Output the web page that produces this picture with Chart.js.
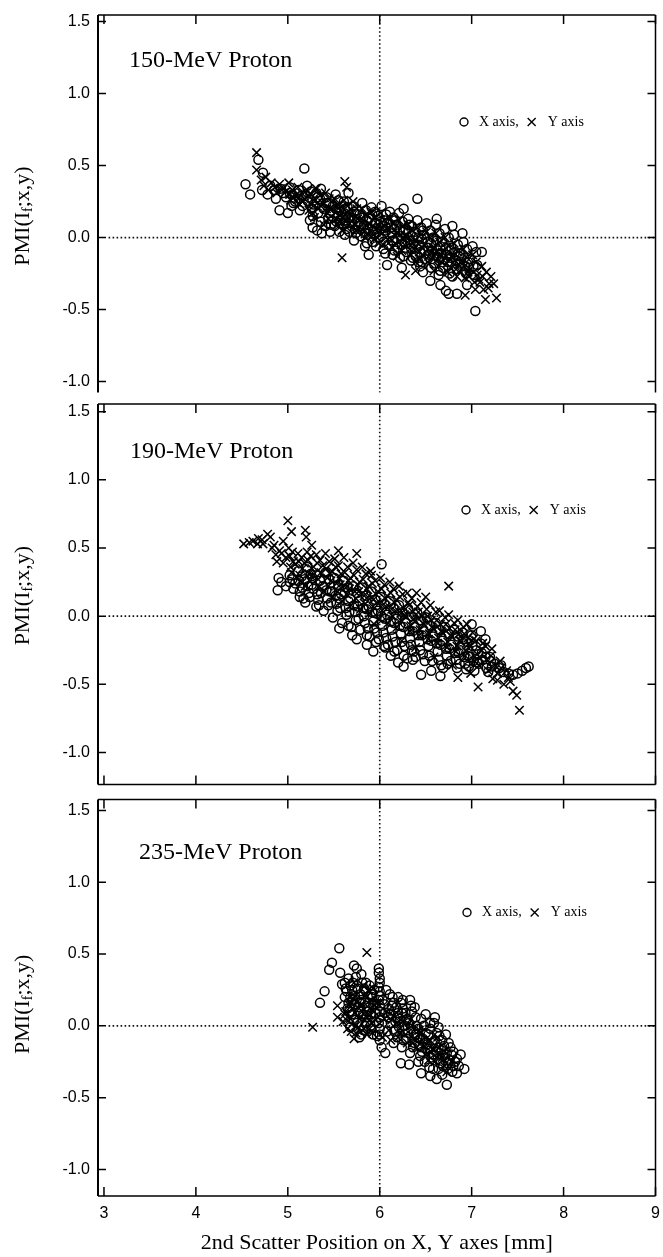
<!DOCTYPE html>
<html lang="en">
<head>
<meta charset="UTF-8">
<title>PMI vs 2nd scatter position</title>
<style>
    body{ margin:0; background:#fff; }
    .wrap{ position:relative; width:663px; height:1257px; }
    canvas{ position:absolute; left:0; }
</style>
<script src="https://cdn.jsdelivr.net/npm/chart.js@4.4.0/dist/chart.umd.min.js"></script>
</head>
<body>
<div class="wrap">
    <canvas id="c150" width="663" height="400" style="top:0px"></canvas>
    <canvas id="c190" width="663" height="396" style="top:396px"></canvas>
    <canvas id="c235" width="663" height="465" style="top:792px"></canvas>
</div>
<script>
// panel names, series names, ticks
const panelLabels = ["150-MeV Proton", "190-MeV Proton", "235-MeV Proton"];
const seriesNames = ["X axis,", "Y axis"];
const xTicks = [3, 4, 5, 6, 7, 8, 9];
const yTicks = [-1.0, -0.5, 0.0, 0.5, 1.0, 1.5];
const xTitle = "2nd Scatter Position on X, Y axes [mm]";

// 150 MeV : circles = X axis, crosses = Y axis
const p150X = [[4.54,0.37],[4.59,0.30],[4.72,0.33],[4.68,0.54],[4.73,0.45],[5.18,0.48],[4.91,0.19],[6.41,0.27],
 [5.88,-0.12],[6.08,-0.19],[6.55,-0.30],[6.75,-0.39],[6.84,-0.39],[7.11,-0.10],[6.79,0.08],[7.04,-0.51],
 [4.81,0.36],[4.78,0.30],[4.92,0.34],[4.87,0.27],[5.02,0.35],[4.98,0.28],[5.04,0.22],[5.12,0.33],[5.08,0.25],
 [5.13,0.19],[5.21,0.36],[5.19,0.29],[5.24,0.12],[5.27,0.07],[5.31,0.31],[5.28,0.23],[5.33,0.17],[5.32,0.05],
 [5.37,0.03],[5.42,0.28],[5.39,0.20],[5.44,0.13],[5.46,0.04],[5.52,0.30],[5.49,0.22],[5.54,0.15],[5.51,0.08],
 [5.61,0.25],[5.58,0.18],[5.63,0.10],[5.62,0.02],[5.71,0.22],[5.68,0.14],[5.73,0.06],[5.72,-0.02],[5.81,0.24],
 [5.78,0.16],[5.83,0.09],[5.79,0.01],[5.84,-0.06],[5.91,0.21],[5.88,0.13],[5.93,0.05],[5.92,-0.03],[6.02,0.22],
 [5.98,0.15],[6.03,0.08],[5.99,0.00],[6.04,-0.08],[6.11,0.18],[6.08,0.10],[6.13,0.03],[6.09,-0.05],[6.14,-0.12],
 [6.21,0.17],[6.18,0.09],[6.23,0.01],[6.19,-0.07],[6.31,0.13],[6.28,0.06],[6.33,-0.02],[6.29,-0.10],[6.34,-0.16],
 [6.41,0.12],[6.38,0.04],[6.43,-0.05],[6.39,-0.13],[6.44,-0.20],[6.51,0.10],[6.48,0.02],[6.53,-0.07],[6.49,-0.15],
 [6.61,0.09],[6.58,0.00],[6.63,-0.09],[6.59,-0.18],[6.64,-0.26],[6.71,0.06],[6.68,-0.03],[6.73,-0.12],[6.69,-0.21],
 [6.81,0.02],[6.78,-0.07],[6.83,-0.16],[6.79,-0.27],[6.72,-0.37],[6.91,-0.03],[6.88,-0.11],[6.93,-0.20],[7.01,-0.06],
 [6.98,-0.15],[7.03,-0.26],[6.95,-0.33],[6.66,-0.33],[6.47,-0.24],[6.24,-0.21],[5.66,0.31],[5.36,0.34],[6.26,0.20],
 [4.85,0.33],[4.95,0.31],[5.05,0.30],[5.06,0.24],[5.15,0.29],[5.16,0.22],[5.25,0.32],[5.26,0.20],[5.35,0.27],
 [5.36,0.11],[5.45,0.24],[5.46,0.17],[5.47,0.09],[5.55,0.26],[5.56,0.19],[5.57,0.12],[5.56,0.04],[5.65,0.21],
 [5.66,0.14],[5.64,0.06],[5.75,0.19],[5.76,0.11],[5.74,0.03],[5.85,0.19],[5.86,0.12],[5.84,0.03],[5.86,-0.04],
 [5.95,0.18],[5.96,0.10],[5.94,0.02],[5.96,-0.06],[6.05,0.12],[6.06,0.05],[6.04,-0.03],[6.06,-0.11],[6.15,0.14],
 [6.16,0.06],[6.14,-0.02],[6.16,-0.09],[6.25,0.11],[6.26,0.04],[6.24,-0.05],[6.26,-0.13],[6.35,0.08],[6.36,0.01],
 [6.34,-0.07],[6.36,-0.14],[6.45,0.07],[6.46,-0.01],[6.44,-0.10],[6.46,-0.17],[6.55,0.05],[6.56,-0.04],[6.54,-0.12],
 [6.56,-0.21],[6.65,0.03],[6.66,-0.06],[6.64,-0.14],[6.66,-0.23],[6.75,0.00],[6.76,-0.09],[6.74,-0.17],[6.76,-0.25],
 [6.85,-0.05],[6.86,-0.13],[6.84,-0.22],[6.95,-0.08],[6.96,-0.17],[6.94,-0.25],[7.05,-0.10],[7.06,-0.19],[6.62,0.13],
 [6.90,0.03],[5.00,0.17],
 [5.02,0.31],[5.12,0.27],[5.22,0.25],[5.27,0.15],[5.32,0.28],[5.42,0.24],[5.41,0.08],[5.52,0.20],[5.53,0.11],
 [5.62,0.20],[5.63,0.14],[5.67,0.04],[5.72,0.18],[5.77,0.08],[5.82,0.14],[5.87,0.06],[5.92,0.16],[5.97,0.06],
 [6.01,0.11],[6.07,0.16],[6.12,0.07],[6.17,0.12],[6.22,0.05],[6.27,-0.03],[6.32,0.09],[6.37,-0.04],[6.42,0.00],
 [6.47,0.05],[6.52,-0.03],[6.57,-0.09],[6.62,-0.02],[6.67,-0.11],[6.72,-0.07],[6.77,-0.14],[6.82,-0.10],[6.87,-0.18],
 [6.92,-0.14],[6.97,-0.21],[7.02,-0.20],[6.62,-0.13],[6.42,-0.17],[6.22,-0.14]];
const p150Y = [[4.66,0.59],[4.66,0.47],[5.62,0.39],[5.64,0.35],[5.59,-0.14],[6.28,-0.26],[6.39,-0.23],[6.93,-0.40],
 [7.15,-0.43],[7.27,-0.42],[7.24,-0.32],[4.71,0.40],[4.74,0.36],[4.82,0.38],[4.79,0.33],[4.91,0.37],[4.88,0.31],
 [5.01,0.38],[4.98,0.32],[5.03,0.26],[5.11,0.35],[5.08,0.29],[5.13,0.23],[5.21,0.33],[5.18,0.27],[5.23,0.19],
 [5.31,0.34],[5.28,0.26],[5.33,0.20],[5.29,0.14],[5.41,0.31],[5.38,0.24],[5.43,0.17],[5.39,0.09],[5.51,0.27],
 [5.48,0.20],[5.53,0.13],[5.61,0.26],[5.58,0.19],[5.63,0.11],[5.59,0.05],[5.71,0.25],[5.68,0.17],[5.73,0.09],
 [5.81,0.20],[5.78,0.12],[5.83,0.04],[5.91,0.18],[5.88,0.10],[5.93,0.02],[6.01,0.17],[5.98,0.09],[6.03,0.03],
 [5.99,-0.04],[6.11,0.14],[6.08,0.06],[6.13,-0.02],[6.21,0.12],[6.18,0.03],[6.23,-0.05],[6.19,-0.13],[6.31,0.09],
 [6.28,0.01],[6.33,-0.08],[6.41,0.07],[6.38,-0.02],[6.43,-0.10],[6.39,-0.17],[6.51,0.04],[6.48,-0.05],[6.53,-0.13],
 [6.61,0.03],[6.58,-0.07],[6.63,-0.15],[6.59,-0.23],[6.71,0.00],[6.68,-0.10],[6.73,-0.18],[6.81,-0.04],[6.78,-0.13],
 [6.83,-0.22],[6.91,-0.08],[6.88,-0.17],[6.93,-0.28],[7.01,-0.12],[6.98,-0.22],[7.03,-0.31],[7.11,-0.20],[7.08,-0.29],
 [7.13,-0.36],[7.21,-0.27],[7.18,-0.35],
 [4.76,0.42],[4.86,0.35],[4.95,0.34],[5.05,0.33],[5.06,0.28],[5.15,0.31],[5.16,0.25],[5.25,0.30],[5.26,0.23],
 [5.35,0.29],[5.36,0.22],[5.45,0.27],[5.46,0.20],[5.44,0.13],[5.55,0.23],[5.56,0.16],[5.54,0.09],[5.65,0.22],
 [5.66,0.14],[5.64,0.07],[5.75,0.20],[5.76,0.13],[5.74,0.05],[5.85,0.16],[5.86,0.08],[5.84,0.00],[5.95,0.14],
 [5.96,0.06],[5.94,-0.01],[6.05,0.12],[6.06,0.05],[6.04,-0.05],[6.15,0.10],[6.16,0.02],[6.14,-0.07],[6.25,0.08],
 [6.26,-0.01],[6.24,-0.09],[6.35,0.05],[6.36,-0.04],[6.34,-0.12],[6.45,0.02],[6.46,-0.07],[6.44,-0.15],[6.55,0.00],
 [6.56,-0.10],[6.54,-0.18],[6.65,-0.03],[6.66,-0.12],[6.64,-0.20],[6.75,-0.06],[6.76,-0.15],[6.74,-0.24],[6.85,-0.10],
 [6.86,-0.19],[6.84,-0.27],[6.95,-0.14],[6.96,-0.24],[7.05,-0.17],[7.06,-0.26],[7.16,-0.24],[7.19,-0.32],[7.04,-0.36],
 [4.92,0.34],[5.02,0.30],[5.12,0.28],[5.22,0.29],[5.27,0.17],[5.32,0.24],[5.42,0.20],[5.52,0.22],[5.57,0.12],
 [5.62,0.16],[5.67,0.10],[5.72,0.13],[5.77,0.06],[5.82,0.12],[5.87,0.03],[5.92,0.08],[5.97,0.00],[6.02,0.06],
 [6.07,0.00],[6.12,0.08],[6.17,-0.04],[6.22,0.02],[6.27,-0.05],[6.32,0.00],[6.37,-0.08],[6.42,-0.04],[6.47,-0.12],
 [6.52,-0.08],[6.57,-0.14],[6.62,-0.10],[6.67,-0.17],[6.72,-0.13],[6.77,-0.21],[6.82,-0.16],[6.87,-0.23],[6.92,-0.20],
 [6.97,-0.27],[7.02,-0.24],[7.09,-0.31],[7.12,-0.27]];

// 190 MeV
const p190X = [[4.90,0.28],[4.89,0.19],[4.93,0.25],[6.02,0.38],[6.45,-0.43],[7.59,-0.38],[7.55,-0.40],[6.66,-0.44],
 [5.93,-0.26],[5.70,-0.14],[5.75,-0.17],[5.31,0.07],[5.13,0.14],[6.20,-0.34],[6.30,-0.31],[7.20,-0.30],[7.10,-0.20],
 [7.00,-0.14],[6.90,-0.12],[7.30,-0.38],[7.40,-0.42],[6.05,-0.22],[6.35,-0.25],[7.00,-0.06],[7.10,-0.11],[7.15,-0.17],
 [5.02,0.30],[4.98,0.22],[5.11,0.33],[5.08,0.24],[5.13,0.18],[5.21,0.36],[5.18,0.27],[5.23,0.17],[5.19,0.10],
 [5.31,0.30],[5.28,0.20],[5.33,0.12],[5.41,0.32],[5.38,0.22],[5.43,0.13],[5.39,0.04],[5.51,0.28],[5.48,0.18],
 [5.53,0.09],[5.49,-0.01],[5.61,0.26],[5.58,0.16],[5.63,0.06],[5.59,-0.05],[5.71,0.22],[5.68,0.13],[5.73,0.03],
 [5.69,-0.08],[5.81,0.21],[5.78,0.11],[5.83,0.00],[5.79,-0.10],[5.91,0.18],[5.88,0.07],[5.93,-0.04],[5.89,-0.15],
 [6.01,0.14],[5.98,0.04],[6.03,-0.07],[5.99,-0.17],[6.11,0.11],[6.08,0.01],[6.13,-0.10],[6.09,-0.21],[6.21,0.08],
 [6.18,-0.02],[6.23,-0.13],[6.19,-0.25],[6.31,0.05],[6.28,-0.05],[6.33,-0.16],[6.41,0.02],[6.38,-0.08],[6.43,-0.19],
 [6.39,-0.30],[6.51,-0.01],[6.48,-0.11],[6.53,-0.22],[6.49,-0.33],[6.61,-0.05],[6.58,-0.15],[6.63,-0.26],[6.71,-0.08],
 [6.68,-0.18],[6.73,-0.29],[6.69,-0.38],[6.81,-0.10],[6.78,-0.21],[6.83,-0.32],[6.91,-0.17],[6.88,-0.25],[6.93,-0.35],
 [7.01,-0.22],[6.98,-0.30],[7.03,-0.40],[7.11,-0.27],[7.08,-0.35],[7.21,-0.33],[7.18,-0.41],[5.86,-0.21],[6.12,-0.29],
 [6.56,-0.40],[6.26,-0.37],[5.56,-0.09],
 [5.05,0.27],[5.06,0.20],[5.15,0.29],[5.16,0.21],[5.17,0.13],[5.25,0.31],[5.26,0.23],[5.24,0.14],[5.35,0.26],
 [5.36,0.17],[5.34,0.08],[5.45,0.27],[5.46,0.18],[5.44,0.08],[5.55,0.23],[5.56,0.13],[5.54,0.04],[5.65,0.21],
 [5.66,0.11],[5.64,0.01],[5.66,-0.07],[5.75,0.17],[5.76,0.07],[5.74,-0.03],[5.85,0.15],[5.86,0.05],[5.84,-0.05],
 [5.86,-0.14],[5.95,0.12],[5.96,0.02],[5.94,-0.09],[5.96,-0.19],[6.05,0.09],[6.06,-0.02],[6.04,-0.12],[6.06,-0.23],
 [6.15,0.06],[6.16,-0.05],[6.14,-0.15],[6.16,-0.26],[6.25,0.03],[6.26,-0.08],[6.24,-0.19],[6.26,-0.29],[6.35,0.00],
 [6.36,-0.11],[6.34,-0.21],[6.36,-0.32],[6.45,-0.03],[6.46,-0.14],[6.44,-0.25],[6.55,-0.07],[6.56,-0.18],[6.54,-0.29],
 [6.65,-0.10],[6.66,-0.21],[6.64,-0.32],[6.75,-0.13],[6.76,-0.24],[6.74,-0.35],[6.85,-0.15],[6.86,-0.27],[6.84,-0.38],
 [6.95,-0.19],[6.96,-0.29],[6.94,-0.39],[7.05,-0.25],[7.06,-0.34],[7.15,-0.30],[7.16,-0.38],[7.25,-0.35],[7.35,-0.41],
 [7.45,-0.43],[7.62,-0.37],
 [5.02,0.25],[5.12,0.26],[5.22,0.22],[5.27,0.28],[5.32,0.16],[5.42,0.19],[5.47,0.10],[5.52,0.15],[5.57,0.06],
 [5.62,0.17],[5.67,0.03],[5.72,0.08],[5.77,-0.02],[5.82,0.06],[5.87,-0.09],[5.92,0.03],[5.97,-0.12],[6.02,0.00],
 [6.07,-0.16],[6.12,-0.04],[6.17,-0.19],[6.22,-0.07],[6.27,-0.22],[6.32,-0.11],[6.37,-0.26],[6.42,-0.14],[6.47,-0.28],
 [6.52,-0.17],[6.57,-0.33],[6.62,-0.20],[6.67,-0.36],[6.72,-0.24],[6.77,-0.33],[6.82,-0.27],[6.87,-0.35],[6.92,-0.30],
 [6.97,-0.37],[7.02,-0.33],[7.07,-0.28],[7.12,-0.32],[7.22,-0.37],[7.32,-0.36],[7.50,-0.42]];
const p190Y = [[4.52,0.53],[4.62,0.55],[4.68,0.57],[4.72,0.56],[4.78,0.60],[4.81,0.58],[5.00,0.70],[5.19,0.63],
 [5.20,0.58],[6.75,0.22],[7.52,-0.69],[7.49,-0.58],[7.45,-0.55],[7.07,-0.52],[6.85,-0.45],[7.28,-0.47],[7.35,-0.50],
 [4.85,0.52],[4.95,0.55],[6.30,0.17],[6.50,0.14],[6.40,0.17],[5.90,0.33],[4.91,0.48],[4.88,0.40],[5.01,0.50],
 [4.98,0.43],[5.03,0.36],[5.11,0.46],[5.08,0.38],[5.13,0.30],[5.21,0.47],[5.18,0.39],[5.23,0.31],[5.19,0.22],
 [5.31,0.45],[5.28,0.36],[5.33,0.27],[5.41,0.46],[5.38,0.37],[5.43,0.28],[5.39,0.18],[5.51,0.42],[5.48,0.33],
 [5.53,0.24],[5.49,0.14],[5.61,0.43],[5.58,0.31],[5.63,0.21],[5.59,0.11],[5.71,0.39],[5.68,0.28],[5.73,0.18],
 [5.69,0.08],[5.81,0.36],[5.78,0.25],[5.83,0.15],[5.79,0.05],[5.91,0.30],[5.88,0.22],[5.93,0.12],[5.89,0.02],
 [5.94,-0.06],[6.01,0.28],[5.98,0.18],[6.03,0.08],[5.99,-0.02],[6.11,0.25],[6.08,0.15],[6.13,0.05],[6.09,-0.05],
 [6.21,0.22],[6.18,0.12],[6.23,0.02],[6.19,-0.08],[6.24,-0.18],[6.31,0.10],[6.28,0.00],[6.33,-0.11],[6.41,0.07],
 [6.38,-0.04],[6.43,-0.14],[6.39,-0.23],[6.51,0.05],[6.48,-0.06],[6.53,-0.17],[6.61,0.03],[6.58,-0.09],[6.63,-0.20],
 [6.59,-0.30],[6.71,-0.01],[6.68,-0.12],[6.73,-0.23],[6.81,-0.05],[6.78,-0.15],[6.83,-0.26],[6.79,-0.36],[6.91,-0.08],
 [6.88,-0.18],[6.93,-0.29],[7.01,-0.12],[6.98,-0.22],[7.03,-0.33],[6.99,-0.42],[7.11,-0.25],[7.08,-0.36],[7.21,-0.29],
 [7.18,-0.40],[7.23,-0.46],[7.31,-0.33],[7.28,-0.42],[5.04,0.62],[5.26,0.52],[5.55,0.48],[5.75,0.46],
 [4.58,0.54],[4.73,0.53],[4.83,0.50],[4.93,0.46],[4.95,0.39],[5.05,0.47],[5.06,0.40],[5.04,0.32],[5.15,0.43],
 [5.16,0.35],[5.14,0.26],[5.25,0.44],[5.26,0.35],[5.24,0.26],[5.35,0.41],[5.36,0.32],[5.34,0.22],[5.45,0.40],
 [5.46,0.31],[5.44,0.22],[5.55,0.37],[5.56,0.28],[5.54,0.18],[5.65,0.36],[5.66,0.26],[5.64,0.16],[5.75,0.34],
 [5.76,0.23],[5.74,0.13],[5.85,0.31],[5.86,0.20],[5.84,0.09],[5.95,0.26],[5.96,0.16],[5.94,0.06],[6.05,0.23],
 [6.06,0.13],[6.04,0.03],[6.15,0.20],[6.16,0.10],[6.14,0.00],[6.25,0.16],[6.26,0.06],[6.24,-0.04],[6.35,0.13],
 [6.36,0.03],[6.34,-0.07],[6.45,0.10],[6.46,0.00],[6.44,-0.10],[6.55,0.08],[6.56,-0.03],[6.54,-0.13],[6.65,0.04],
 [6.66,-0.06],[6.64,-0.16],[6.75,0.01],[6.76,-0.09],[6.74,-0.19],[6.85,-0.03],[6.86,-0.13],[6.84,-0.22],[6.95,-0.06],
 [6.96,-0.16],[6.94,-0.26],[7.05,-0.18],[7.06,-0.28],[7.15,-0.22],[7.16,-0.32],[7.25,-0.36],[7.38,-0.40],[7.42,-0.48],
 [4.67,0.53],[4.87,0.45],[5.02,0.44],[5.12,0.40],[5.22,0.41],[5.27,0.30],[5.32,0.39],[5.42,0.35],[5.47,0.26],
 [5.52,0.36],[5.57,0.23],[5.62,0.32],[5.67,0.20],[5.72,0.30],[5.77,0.18],[5.82,0.27],[5.87,0.14],[5.92,0.24],
 [5.97,0.10],[6.02,0.20],[6.07,0.07],[6.12,0.17],[6.17,0.04],[6.22,0.14],[6.27,0.01],[6.32,0.08],[6.37,-0.02],
 [6.42,0.03],[6.47,-0.05],[6.52,0.00],[6.57,-0.08],[6.62,-0.03],[6.67,-0.11],[6.72,-0.06],[6.77,-0.14],[6.82,-0.10],
 [6.87,-0.18],[6.92,-0.13],[6.97,-0.20],[7.02,-0.17],[7.12,-0.20],[7.22,-0.24],[7.32,-0.38],[7.40,-0.45]];

// 235 MeV
const p235X = [[5.56,0.54],[5.48,0.44],[5.45,0.39],[5.57,0.37],[5.59,0.29],[5.40,0.24],[5.35,0.16],[5.72,0.42],
 [5.75,0.40],[6.33,0.18],[6.60,0.06],[6.64,-0.01],[6.84,-0.23],[6.92,-0.30],[6.73,-0.41],[6.84,-0.33],[6.23,-0.26],
 [6.32,-0.27],[6.45,-0.33],[6.06,-0.19],[6.02,-0.15],[6.09,0.06],[6.11,0.22],[6.20,0.20],[6.25,0.18],[6.50,0.08],
 [6.55,0.02],[6.78,-0.20],[6.80,-0.28],[6.55,-0.35],[6.62,-0.37],[6.68,-0.34],[5.62,0.30],[5.66,0.33],[5.80,0.36],
 [5.85,0.30],[5.70,0.25],[5.99,0.40],[5.99,0.37],[6.00,0.33],[6.00,0.30],[5.99,0.27],[6.00,0.24],[6.00,0.21],
 [5.99,0.18],[6.00,0.14],[6.00,0.10],[6.00,0.06],[5.99,0.02],[6.00,-0.02],[6.00,-0.06],[6.00,-0.10],[5.65,0.12],
 [5.70,0.08],[5.72,0.15],[5.75,0.02],[5.78,0.10],[5.80,0.18],[5.82,-0.03],[5.85,0.06],[5.88,0.13],[5.90,0.00],
 [5.92,0.20],[5.93,-0.06],[5.95,0.09],[5.68,0.20],[5.85,0.24],[6.10,0.12],[6.12,0.02],[6.15,0.16],[6.16,-0.04],
 [6.20,0.09],[6.21,-0.01],[6.25,0.12],[6.26,-0.10],[6.30,0.05],[6.31,-0.05],[6.35,0.10],[6.36,-0.15],[6.40,0.00],
 [6.41,-0.08],[6.45,0.05],[6.46,-0.18],[6.50,-0.05],[6.51,-0.13],[6.55,-0.02],[6.56,-0.22],[6.60,-0.10],[6.61,-0.18],
 [6.65,-0.07],[6.66,-0.26],[6.70,-0.14],[6.71,-0.22],[6.75,-0.12],[6.74,-0.30],[6.80,-0.18],[6.42,-0.25],[6.58,-0.30],
 [6.15,-0.12],[5.78,-0.08],[6.38,0.13],
 [5.62,0.20],[5.64,0.24],[5.66,0.16],[5.68,0.28],[5.70,0.18],[5.72,0.04],[5.74,0.34],[5.76,0.26],[5.77,0.13],
 [5.79,0.22],[5.81,0.30],[5.82,0.08],[5.84,0.16],[5.86,0.02],[5.87,0.20],[5.89,0.28],[5.90,0.08],[5.91,-0.02],
 [5.93,0.15],[5.94,0.25],[5.96,0.03],[5.97,-0.07],[5.80,-0.06],[5.68,-0.01],[6.05,0.15],[6.07,0.25],[6.08,-0.04],
 [6.12,0.08],[6.14,0.20],[6.17,0.03],[6.18,0.13],[6.19,-0.08],[6.22,0.05],[6.23,0.16],[6.24,-0.15],[6.27,0.00],
 [6.28,0.09],[6.29,-0.09],[6.32,0.02],[6.33,-0.19],[6.34,0.14],[6.37,-0.05],[6.38,-0.12],[6.39,0.06],[6.42,-0.02],
 [6.43,-0.14],[6.44,-0.21],[6.47,-0.09],[6.48,0.00],[6.49,-0.25],[6.52,-0.16],[6.53,-0.06],[6.54,-0.29],[6.57,-0.12],
 [6.58,-0.20],[6.59,0.02],[6.62,-0.05],[6.63,-0.23],[6.64,-0.30],[6.67,-0.17],[6.68,-0.10],[6.69,-0.28],[6.72,-0.06],
 [6.73,-0.19],[6.76,-0.24],[6.77,-0.15],[6.82,-0.25],[6.86,-0.28],[6.88,-0.20],
 [5.63,0.26],[5.67,0.10],[5.71,0.30],[5.73,0.21],[5.78,0.16],[5.83,0.26],[5.86,0.10],[5.91,0.22],[5.95,0.15],
 [6.03,0.18],[6.06,0.09],[6.13,0.14],[6.19,0.06],[6.24,0.09],[6.29,0.04],[6.34,-0.02],[6.39,-0.06],[6.44,-0.09],
 [6.49,-0.12],[6.54,-0.16],[6.59,-0.20],[6.64,-0.15],[6.69,-0.21],[6.74,-0.26],[6.79,-0.32]];
const p235Y = [[5.86,0.51],[5.54,0.14],[5.54,0.06],[5.27,-0.01],[5.60,0.03],[5.65,-0.02],[5.74,-0.05],[5.72,-0.09],
 [5.68,0.05],[5.70,0.12],[5.78,0.05],[5.80,0.15],[5.83,-0.02],[5.87,0.08],[5.90,0.18],[5.92,-0.05],[5.95,0.04],
 [5.75,0.22],[5.82,0.28],[5.72,0.30],[5.88,0.25],[6.05,0.05],[6.10,-0.03],[6.15,0.07],[6.20,-0.08],[6.25,0.03],
 [6.30,-0.12],[6.35,0.00],[6.40,-0.15],[6.45,-0.05],[6.50,-0.20],[6.55,-0.10],[6.60,-0.25],[6.65,-0.15],[6.70,-0.28],
 [5.63,0.10],[5.77,-0.01],[5.96,0.13],[6.03,-0.08],
 [5.62,0.08],[5.66,0.15],[5.69,-0.04],[5.71,0.19],[5.73,0.09],[5.76,0.17],[5.79,-0.04],[5.81,0.10],[5.84,0.21],
 [5.86,-0.06],[5.89,0.12],[5.91,0.02],[5.93,0.26],[5.97,0.16],[6.08,0.10],[6.12,-0.10],[6.18,0.02],[6.22,-0.02],
 [6.28,-0.06],[6.33,0.04],[6.38,-0.09],[6.43,-0.03],[6.48,-0.14],[6.53,-0.24],[6.58,-0.17],[6.63,-0.08],[6.68,-0.22],
 [6.73,-0.32],[6.78,-0.25],
 [5.64,0.04],[5.69,0.16],[5.74,0.00],[5.79,0.14],[5.84,0.04],[5.89,-0.02],[5.94,0.10],[6.13,0.04],[6.23,-0.05],
 [6.36,-0.12],[6.46,-0.10],[6.56,-0.18],[6.66,-0.20]];

// reference lines (dotted)
const zeroLine = [[3.05, 0], [9.0, 0]];
const sixLine = [[6, -1.3], [6, 1.6]];

const panels = [
    {id: "c150", circles: p150X, crosses: p150Y, label: panelLabels[0], yMin: -1.076, yMax: 1.546,
     pad: {top: 15, bottom: 5}, labelPos: [31, 46], legendPos: [366, 107], bottomLine: false, xAxis: false},
    {id: "c190", circles: p190X, crosses: p190Y, label: panelLabels[1], yMin: -1.235, yMax: 1.556,
     pad: {top: 8, bottom: 4}, labelPos: [32, 48], legendPos: [368, 106], bottomLine: true, xAxis: false},
    {id: "c235", circles: p235X, crosses: p235Y, label: panelLabels[2], yMin: -1.185, yMax: 1.576,
     pad: {top: 6, bottom: 0}, labelPos: [41, 53], legendPos: [369, 113], bottomLine: true, xAxis: true}
];

const toPts = arr => arr.map(p => ({x: p[0], y: p[1]}));
const serif = "'Liberation Serif', 'Times New Roman', serif";
const sans = "'Liberation Sans', Arial, sans-serif";

// frame, inward ticks, panel label, legend and y title
const framePlugin = {
    id: "frame",
    afterDraw(chart, args, opts) {
        const ctx = chart.ctx;
        const a = chart.chartArea;
        const xs = chart.scales.x, ys = chart.scales.y;
        ctx.save();
        ctx.strokeStyle = "#000";
        ctx.fillStyle = "#000";
        ctx.lineCap = "butt";

        ctx.lineWidth = 2;
        ctx.beginPath();
        ctx.moveTo(a.left, a.top); ctx.lineTo(a.left, a.bottom);
        ctx.stroke();

        ctx.lineWidth = 1.5;
        ctx.beginPath();
        ctx.moveTo(a.left, a.top); ctx.lineTo(a.right, a.top);
        ctx.moveTo(a.right, a.top); ctx.lineTo(a.right, a.bottom);
        if (opts.bottomLine) { ctx.moveTo(a.left, a.bottom); ctx.lineTo(a.right, a.bottom); }
        ctx.stroke();

        ctx.beginPath();
        xTicks.forEach(v => {
            const px = xs.getPixelForValue(v);
            ctx.moveTo(px, a.top); ctx.lineTo(px, a.top + 9);
            if (opts.bottomLine) { ctx.moveTo(px, a.bottom); ctx.lineTo(px, a.bottom - 9); }
        });
        yTicks.forEach(v => {
            const py = ys.getPixelForValue(v);
            ctx.moveTo(a.left, py); ctx.lineTo(a.left + 8, py);
            ctx.moveTo(a.right, py); ctx.lineTo(a.right - 8, py);
        });
        ctx.stroke();

        // panel label
        ctx.font = "24px " + serif;
        ctx.textBaseline = "middle";
        ctx.textAlign = "left";
        ctx.fillText(opts.label, a.left + opts.labelPos[0], a.top + opts.labelPos[1]);

        // legend
        const lx = a.left + opts.legendPos[0], ly = a.top + opts.legendPos[1];
        ctx.lineWidth = 1.4;
        ctx.beginPath();
        ctx.arc(lx, ly, 4, 0, Math.PI * 2);
        ctx.stroke();
        ctx.font = "14px " + serif;
        let tx = lx + 15;
        ctx.fillText(seriesNames[0], tx, ly);
        tx += ctx.measureText(seriesNames[0]).width + 13;
        ctx.beginPath();
        ctx.moveTo(tx - 4, ly - 4); ctx.lineTo(tx + 4, ly + 4);
        ctx.moveTo(tx - 4, ly + 4); ctx.lineTo(tx + 4, ly - 4);
        ctx.stroke();
        ctx.fillText(seriesNames[1], tx + 16, ly);

        // y title with subscript f
        const cy = ys.getPixelForValue(0.15);
        ctx.translate(23, cy);
        ctx.rotate(-Math.PI / 2);
        const big = "22px " + serif, small = "14px " + serif;
        ctx.font = big;
        const w1 = ctx.measureText("PMI(I").width, w3 = ctx.measureText(";x,y)").width;
        ctx.font = small;
        const w2 = ctx.measureText("f").width;
        const sx = -(w1 + w2 + w3) / 2;
        ctx.font = big;
        ctx.fillText("PMI(I", sx, 0);
        ctx.font = small;
        ctx.fillText("f", sx + w1, 5);
        ctx.font = big;
        ctx.fillText(";x,y)", sx + w1 + w2, 0);
        ctx.restore();
    }
};

panels.forEach(p => {
    const ctx = document.getElementById(p.id).getContext("2d");
    new Chart(ctx, {
        type: "scatter",
        data: {
            datasets: [
                {data: toPts(p.circles), pointStyle: "circle", pointRadius: 4.5, borderWidth: 1.5,
                 borderColor: "#000", backgroundColor: "rgba(0,0,0,0)"},
                {data: toPts(p.crosses), pointStyle: "crossRot", pointRadius: 6, borderWidth: 1.5,
                 borderColor: "#000", backgroundColor: "#000"},
                {data: toPts(zeroLine), showLine: true, pointRadius: 0, borderColor: "#111",
                 borderWidth: 1.6, borderDash: [1.6, 2.4]},
                {data: toPts(sixLine), showLine: true, pointRadius: 0, borderColor: "#111",
                 borderWidth: 1.6, borderDash: [1.6, 2.4]}
            ]
        },
        options: {
            responsive: false,
            animation: false,
            events: [],
            layout: {padding: {left: 0, right: 5, top: p.pad.top, bottom: p.pad.bottom}},
            plugins: {
                legend: {display: false},
                tooltip: {enabled: false},
                frame: {label: p.label, labelPos: p.labelPos, legendPos: p.legendPos, bottomLine: p.bottomLine}
            },
            scales: {
                x: {
                    type: "linear",
                    display: p.xAxis,
                    min: 2.935,
                    max: 9.0,
                    afterBuildTicks: s => { s.ticks = xTicks.map(v => ({value: v})); },
                    afterFit: s => {
                        if (p.xAxis) s.height = 61;
                        s.paddingLeft = 0; s.paddingRight = 0;
                    },
                    grid: {display: false, drawTicks: false},
                    border: {display: false},
                    ticks: {color: "#000", padding: 8, font: {family: sans, size: 16}, maxRotation: 0},
                    title: {display: true, text: xTitle, color: "#000", padding: {top: 0, bottom: 1},
                            font: {family: serif, size: 22}}
                },
                y: {
                    type: "linear",
                    min: p.yMin,
                    max: p.yMax,
                    afterBuildTicks: s => { s.ticks = yTicks.map(v => ({value: v})); },
                    afterFit: s => { s.width = 98; s.paddingTop = 0; s.paddingBottom = 0; },
                    grid: {display: false, drawTicks: false},
                    border: {display: false},
                    ticks: {color: "#000", padding: 8, font: {family: sans, size: 16},
                            callback: v => v.toFixed(1)}
                }
            }
        },
        plugins: [framePlugin]
    });
});
</script>
</body>
</html>
